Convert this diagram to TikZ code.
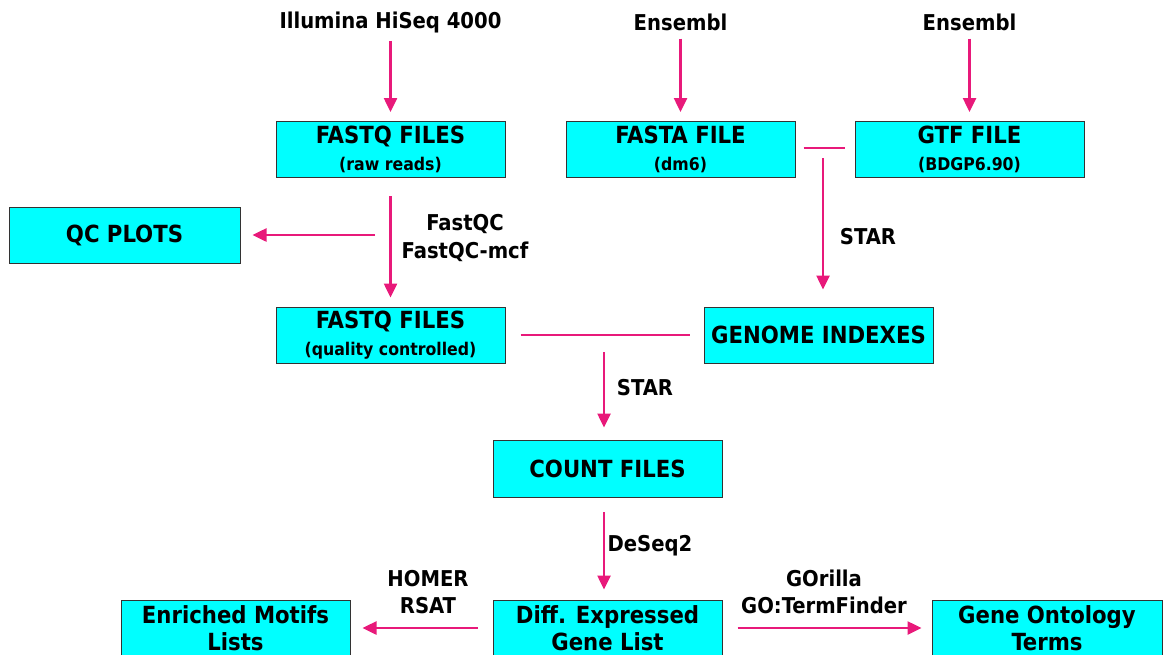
\documentclass[tikz,border=0pt]{standalone}
\usepackage{fontspec}
\setmainfont{DejaVu Sans Condensed}
\usetikzlibrary{arrows.meta}
\definecolor{flowpink}{HTML}{E8197A}
\definecolor{boxcyan}{HTML}{00FFFF}
\tikzset{
  box/.style={draw=black!80, line width=1pt, fill=boxcyan, minimum width=229pt, minimum height=56pt, inner sep=0pt, align=center, font=\bfseries\fontsize{23.6}{27}\selectfont},
  flow/.style={draw=flowpink, line width=2.5pt},
  arr/.style={flow, -{Triangle[length=14pt,width=13pt]}},
  lab/.style={font=\bfseries\fontsize{21.8}{27.5}\selectfont, align=center, inner sep=0pt}
}
\newcommand{\subt}[1]{{\fontsize{17.5}{21}\selectfont #1}}
\begin{document}
\begin{tikzpicture}[x=1pt,y=-1pt]
\useasboundingbox (0,0) rectangle (1165,654);
% source labels
\node[lab] (ill) at (390.5,22) {Illumina HiSeq 4000};
\node[lab] (ens1) at (680.5,22) {Ensembl};
\node[lab] (ens2) at (969.5,22) {Ensembl};
% boxes
\node[box] (raw) at (390.5,149.5) {FASTQ FILES\\\subt{(raw reads)}};
\node[box] (fasta) at (680.5,149.5) {FASTA FILE\\\subt{(dm6)}};
\node[box] (gtf) at (969.5,149.5) {GTF FILE\\\subt{(BDGP6.90)}};
\node[box, minimum width=231pt] (qc) at (124.5,235) {QC PLOTS};
\node[box] (qcf) at (390.5,335) {FASTQ FILES\\\subt{(quality controlled)}};
\node[box] (genome) at (818.5,335) {GENOME INDEXES};
\node[box, minimum height=57pt] (count) at (607.5,468.5) {COUNT FILES};
\node[box] (diff) at (607.5,628) {Diff. Expressed\\Gene List};
\node[box] (motifs) at (235.5,628) {Enriched Motifs\\Lists};
\node[box, minimum width=230pt] (go) at (1047,628) {Gene Ontology\\Terms};
% tool labels
\node[lab] (fqc) at (465,238) {FastQC\\FastQC-mcf};
\node[lab] (star1) at (868,237) {STAR};
\node[lab] (star2) at (645,388) {STAR};
\node[lab] (deseq) at (650,546) {DeSeq2};
\node[lab] (homer) at (428,592) {HOMER\\RSAT};
\node[lab] (gorilla) at (824,592) {GOrilla\\GO:TermFinder};
% junction coordinates
\coordinate (j1) at (823,148);
\coordinate (j1a) at (823,158);
\coordinate (j2) at (604,335);
\coordinate (j2a) at (604,352);
\coordinate (qcsplit) at (375,235);
\coordinate (cd) at (604,497);
% connectors
\draw[arr, shorten <=8pt, shorten >=9pt] (ill) -- (raw);
\draw[arr, shorten <=8pt, shorten >=9pt] (ens1) -- (fasta);
\draw[arr, shorten <=8pt, shorten >=9pt] (ens2) -- (gtf);
\draw[arr, shorten <=18pt, shorten >=9pt] (raw.south) -- (qcf.north);
\draw[arr, shorten >=12pt] (qcsplit) -- (qc.east);
\draw[flow, shorten <=8pt, shorten >=10pt] (fasta.east |- j1) -- (gtf.west |- j1);
\draw[arr, shorten >=17pt] (j1a) -- (j1a |- genome.north);
\draw[flow, shorten <=15pt, shorten >=14pt] (qcf.east) -- (genome.west);
\draw[arr, shorten >=12pt] (j2a) -- (j2a |- count.north);
\draw[arr, shorten <=15pt, shorten >=10pt] (cd) -- (cd |- diff.north);
\draw[arr, shorten <=15pt, shorten >=12pt] (diff.west) -- (motifs.east);
\draw[arr, shorten <=15pt, shorten >=10pt] (diff.east) -- (go.west);
\end{tikzpicture}
\end{document}
